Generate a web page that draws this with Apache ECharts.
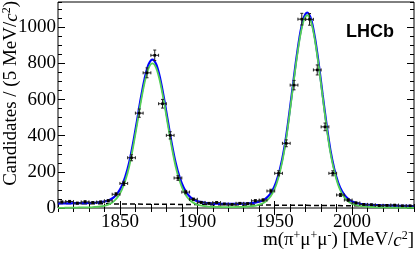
<!DOCTYPE html>
<html lang="en">
<head>
    <meta charset="UTF-8">
    <title>m(pi mu mu) mass fit</title>
    <script src="https://cdn.jsdelivr.net/npm/echarts@6/dist/echarts.min.js"></script>
    <style>
        html, body { margin: 0; padding: 0; background: #fff; }
        #chart { width: 419px; height: 261px; }
    </style>
</head>
<body>
    <div id="chart"></div>
    <script>
        // data points, 5 MeV bins
        const binCentres = [1812.5, 1817.5, 1822.5, 1827.5, 1832.5, 1837.5, 1842.5, 1847.5, 1852.5, 1857.5,
            1862.5, 1867.5, 1872.5, 1877.5, 1882.5, 1887.5, 1892.5, 1897.5, 1902.5, 1907.5,
            1912.5, 1917.5, 1922.5, 1927.5, 1932.5, 1937.5, 1942.5, 1947.5, 1952.5, 1957.5,
            1962.5, 1967.5, 1972.5, 1977.5, 1982.5, 1987.5, 1992.5, 1997.5, 2002.5, 2007.5,
            2012.5, 2017.5, 2022.5, 2027.5, 2032.5, 2037.5];
        const candidates = [33, 36, 27, 34, 30, 33, 40, 76, 136, 278,
            525, 748, 845, 577, 402, 166, 88, 48, 31, 26,
            30, 22, 20, 26, 24, 40, 44, 94, 192, 358,
            680, 1045, 1044, 764, 449, 192, 72, 44, 28, 20,
            18, 14, 15, 16, 12, 12];

        // fit curves
        const fitMass = [1810, 1811, 1813.5, 1816, 1818.5, 1821, 1823.5, 1826, 1828.5, 1831,
            1833.5, 1836, 1838.5, 1841, 1843.5, 1846, 1848.5, 1851, 1853.5, 1856,
            1858.5, 1861, 1863.5, 1866, 1868.5, 1871, 1873.5, 1876, 1878.5, 1881,
            1883.5, 1886, 1888.5, 1891, 1893.5, 1896, 1898.5, 1901, 1903.5, 1906,
            1908.5, 1911, 1913.5, 1916, 1918.5, 1921, 1923.5, 1926, 1928.5, 1931,
            1933.5, 1936, 1938.5, 1941, 1943.5, 1946, 1948.5, 1951, 1953.5, 1956,
            1958.5, 1961, 1963.5, 1966, 1968.5, 1971, 1973.5, 1976, 1978.5, 1981,
            1983.5, 1986, 1988.5, 1991, 1993.5, 1996, 1998.5, 2001, 2003.5, 2006,
            2008.5, 2011, 2013.5, 2016, 2018.5, 2021, 2023.5, 2026, 2028.5, 2031,
            2033.5, 2036, 2038.5, 2040];
        const fitTotal = [26, 26, 26, 26, 26, 27, 27, 27, 27, 28,
            29, 31, 34, 38, 46, 59, 82, 118, 174, 252,
            358, 481, 607, 717, 794, 821, 794, 717, 606, 480,
            356, 250, 172, 116, 79, 56, 43, 35, 31, 27,
            26, 24, 24, 23, 23, 23, 23, 23, 24, 24,
            26, 28, 32, 38, 48, 66, 96, 145, 218, 322,
            463, 628, 796, 943, 1045, 1082, 1045, 942, 795, 626,
            462, 320, 216, 141, 92, 62, 44, 33, 26, 22,
            20, 18, 17, 16, 15, 14, 14, 13, 13, 12,
            12, 12, 11, 11];
        const fitSignal = [1, 1, 1, 2, 2, 2, 3, 3, 4, 4,
            6, 7, 10, 15, 23, 37, 59, 96, 152, 230,
            336, 459, 586, 696, 773, 800, 773, 696, 586, 459,
            336, 230, 152, 96, 59, 37, 24, 16, 12, 9,
            7, 6, 6, 5, 5, 5, 5, 6, 6, 7,
            9, 11, 15, 21, 32, 50, 80, 129, 203, 306,
            448, 613, 781, 928, 1031, 1067, 1031, 928, 781, 613,
            448, 306, 203, 128, 79, 49, 31, 20, 14, 10,
            8, 6, 5, 4, 3, 3, 3, 2, 2, 2,
            2, 1, 1, 1];
        const bkgMass = [1810, 2040];
        const bkgValue = [25, 10];

        const xTicks = [1850, 1900, 1950, 2000];
        const yTicks = [0, 200, 400, 600, 800, 1000];

        const serif = 'Liberation Serif';
        const binHalf = 2.5;

        const chart = echarts.init(document.getElementById('chart'), null, { renderer: 'canvas' });

        function zip(a, b) { return a.map((v, i) => [v, b[i]]); }

        function axisX(pos, major) {
            const ax = {
                type: 'value', min: 1810, max: 2040, position: pos,
                axisLine: { show: false },
                splitLine: { show: false },
                axisTick: { inside: true, length: major ? 7 : 4, lineStyle: { color: '#000', width: 1 } },
                axisLabel: { show: false }
            };
            if (major) {
                ax.axisTick.customValues = xTicks;
                ax.axisLabel = {
                    show: pos === 'bottom', customValues: xTicks, margin: 5,
                    fontFamily: serif, fontSize: 19, color: '#000',
                    formatter: v => String(v)
                };
            } else {
                ax.interval = 10;
            }
            return ax;
        }

        function axisY(pos, major) {
            const ax = {
                type: 'value', min: 0, max: 1140, position: pos,
                axisLine: { show: false },
                splitLine: { show: false },
                axisTick: { inside: true, length: major ? 7 : 4, lineStyle: { color: '#000', width: 1 } },
                axisLabel: { show: false }
            };
            if (major) {
                ax.axisTick.customValues = yTicks;
                ax.axisLabel = {
                    show: pos === 'left', customValues: yTicks, margin: 2,
                    fontFamily: serif, fontSize: 19, color: '#000',
                    formatter: v => String(v)
                };
            } else {
                ax.interval = 50;
            }
            return ax;
        }

        function renderPoint(params, api) {
            const x = api.value(0), y = api.value(1);
            const err = Math.sqrt(y);
            const c = api.coord([x, y]);
            const l = api.coord([x - binHalf, y]);
            const r = api.coord([x + binHalf, y]);
            const lo = api.coord([x, y - err]);
            const hi = api.coord([x, y + err]);
            const st = { stroke: '#222', lineWidth: 1 };
            return {
                type: 'group',
                children: [
                    { type: 'line', shape: { x1: l[0], y1: c[1], x2: r[0], y2: c[1] }, style: st },
                    { type: 'line', shape: { x1: l[0], y1: c[1] - 1.5, x2: l[0], y2: c[1] + 1.5 }, style: st },
                    { type: 'line', shape: { x1: r[0], y1: c[1] - 1.5, x2: r[0], y2: c[1] + 1.5 }, style: st },
                    { type: 'line', shape: { x1: c[0], y1: lo[1], x2: c[0], y2: hi[1] }, style: st },
                    { type: 'line', shape: { x1: c[0] - 1.5, y1: lo[1], x2: c[0] + 1.5, y2: lo[1] }, style: st },
                    { type: 'line', shape: { x1: c[0] - 1.5, y1: hi[1], x2: c[0] + 1.5, y2: hi[1] }, style: st },
                    { type: 'rect', shape: { x: c[0] - 1.3, y: c[1] - 1.3, width: 2.6, height: 2.6 }, style: { fill: '#000' } }
                ]
            };
        }

        const rich = {
            a: { fontFamily: serif, fontSize: 19, lineHeight: 20, fill: '#000', verticalAlign: 'bottom' },
            i: { fontFamily: serif, fontSize: 19, lineHeight: 20, fontStyle: 'italic', fill: '#000', verticalAlign: 'bottom' },
            s: { fontFamily: serif, fontSize: 12, lineHeight: 20, fill: '#000', verticalAlign: 'top' }
        };

        chart.setOption({
            animation: false,
            backgroundColor: '#fff',
            grid: {
                left: 58, right: 5, top: 2, bottom: 53,
                show: true, borderColor: '#000', borderWidth: 1, backgroundColor: 'transparent'
            },
            xAxis: [axisX('bottom', true), axisX('bottom', false), axisX('top', true), axisX('top', false)],
            yAxis: [axisY('left', true), axisY('left', false), axisY('right', true), axisY('right', false)],
            graphic: [
                {
                    type: 'text', x: 11, y: 1, rotation: Math.PI / 2,
                    style: {
                        text: '{a|Candidates / (5 MeV/}{i|c}{s|2}{a|)}',
                        align: 'right', verticalAlign: 'middle', rich: rich
                    }
                },
                {
                    type: 'text', x: 414, y: 240,
                    style: {
                        text: '{a|m(π}{s|+}{a|μ}{s|+}{a|μ}{s|-}{a|) [MeV/}{i|c}{s|2}{a|]}',
                        align: 'right', verticalAlign: 'middle', rich: rich
                    }
                },
                {
                    type: 'text', x: 346, y: 23,
                    style: {
                        text: 'LHCb', fontFamily: 'Liberation Sans', fontWeight: 'bold',
                        fontSize: 18, fill: '#000'
                    }
                }
            ],
            series: [
                {
                    type: 'line', name: 'background', data: zip(bkgMass, bkgValue),
                    showSymbol: false, z: 2,
                    lineStyle: { color: '#000', width: 1.5, type: [5, 3] }
                },
                {
                    type: 'line', name: 'total', data: zip(fitMass, fitTotal),
                    smooth: 0.3, showSymbol: false, z: 3,
                    lineStyle: { color: '#0000ff', width: 2.2 }
                },
                {
                    type: 'line', name: 'signal', data: zip(fitMass, fitSignal),
                    smooth: 0.3, showSymbol: false, z: 4,
                    lineStyle: { color: '#55d055', width: 1.8 }
                },
                {
                    type: 'custom', name: 'data', data: zip(binCentres, candidates),
                    renderItem: renderPoint, z: 5
                }
            ]
        });
    </script>
</body>
</html>
